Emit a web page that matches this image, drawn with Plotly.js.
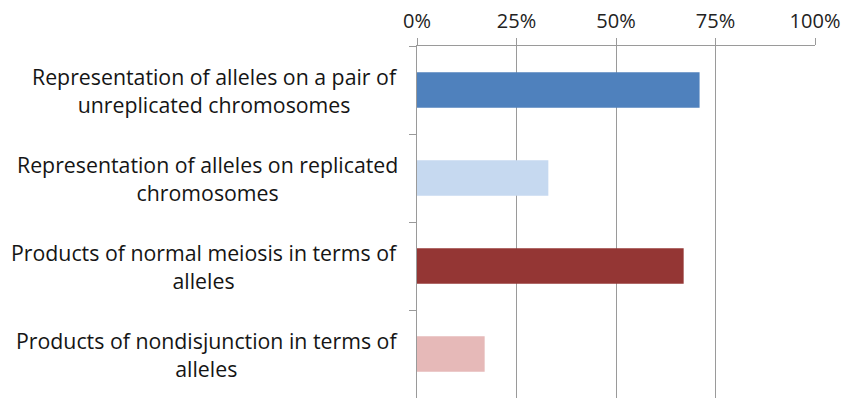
<!DOCTYPE html>
<html>
<head>
<meta charset="utf-8">
<script src="https://cdn.plot.ly/plotly-3.0.1.min.js"></script>
<style>
  html, body { margin: 0; padding: 0; background: #fff; }
  #chart { width: 841px; height: 403px; }
</style>
</head>
<body>
<div id="chart"></div>
<script>
// Categories (top to bottom), with line breaks as displayed
const categories = [
  "Representation of alleles on a pair of<br>unreplicated chromosomes",
  "Representation of alleles on replicated<br>chromosomes",
  "Products of normal meiosis in terms of<br>alleles",
  "Products of nondisjunction in terms of<br>alleles"
];
// Share of responses for each category
const values = [0.71, 0.33, 0.67, 0.17];
const barColors = ["#4F81BD", "#C6D9F0", "#943634", "#E6B9B8"];
const tickValues = [0, 0.25, 0.5, 0.75, 1];
const tickLabels = ["0%", "25%", "50%", "75%", "100%"];

const trace = {
  type: "bar",
  orientation: "h",
  x: values,
  y: categories,
  marker: { color: barColors, line: { width: 0 } },
  hoverinfo: "x+y"
};

// Category labels drawn as centred multi-line text beside the axis
const labelAnnotations = categories.map(c => ({
  xref: "paper", yref: "y",
  x: 0, y: c,
  xanchor: "right", yanchor: "middle",
  xshift: -17,
  align: "center",
  showarrow: false,
  text: c,
  font: { family: "Open Sans, sans-serif", size: 21.3, color: "#151515" }
}));

const layout = {
  width: 841, height: 403,
  margin: { l: 417, r: 25.5, t: 46, b: 5 },
  paper_bgcolor: "#ffffff",
  plot_bgcolor: "#ffffff",
  showlegend: false,
  bargap: 0.595,
  xaxis: {
    side: "top",
    range: [0, 1],
    tickvals: tickValues,
    ticktext: tickLabels,
    ticks: "outside",
    ticklen: 7,
    tickcolor: "#9a9a9a",
    tickwidth: 1,
    ticklabelstandoff: 2,
    showline: true,
    linecolor: "#9a9a9a",
    linewidth: 1,
    showgrid: true,
    gridcolor: "#9a9a9a",
    gridwidth: 1,
    zeroline: false,
    fixedrange: true,
    tickfont: { family: "Open Sans, sans-serif", size: 20, color: "#222222" }
  },
  yaxis: {
    type: "category",
    categoryorder: "array",
    categoryarray: categories,
    autorange: "reversed",
    showticklabels: false,
    ticks: "outside",
    tickson: "boundaries",
    ticklen: 7,
    tickcolor: "#9a9a9a",
    tickwidth: 1,
    showline: true,
    linecolor: "#9a9a9a",
    linewidth: 1,
    showgrid: false,
    zeroline: false,
    fixedrange: true
  },
  annotations: labelAnnotations
};

Plotly.newPlot("chart", [trace], layout, { displayModeBar: false, staticPlot: true });
</script>
</body>
</html>
